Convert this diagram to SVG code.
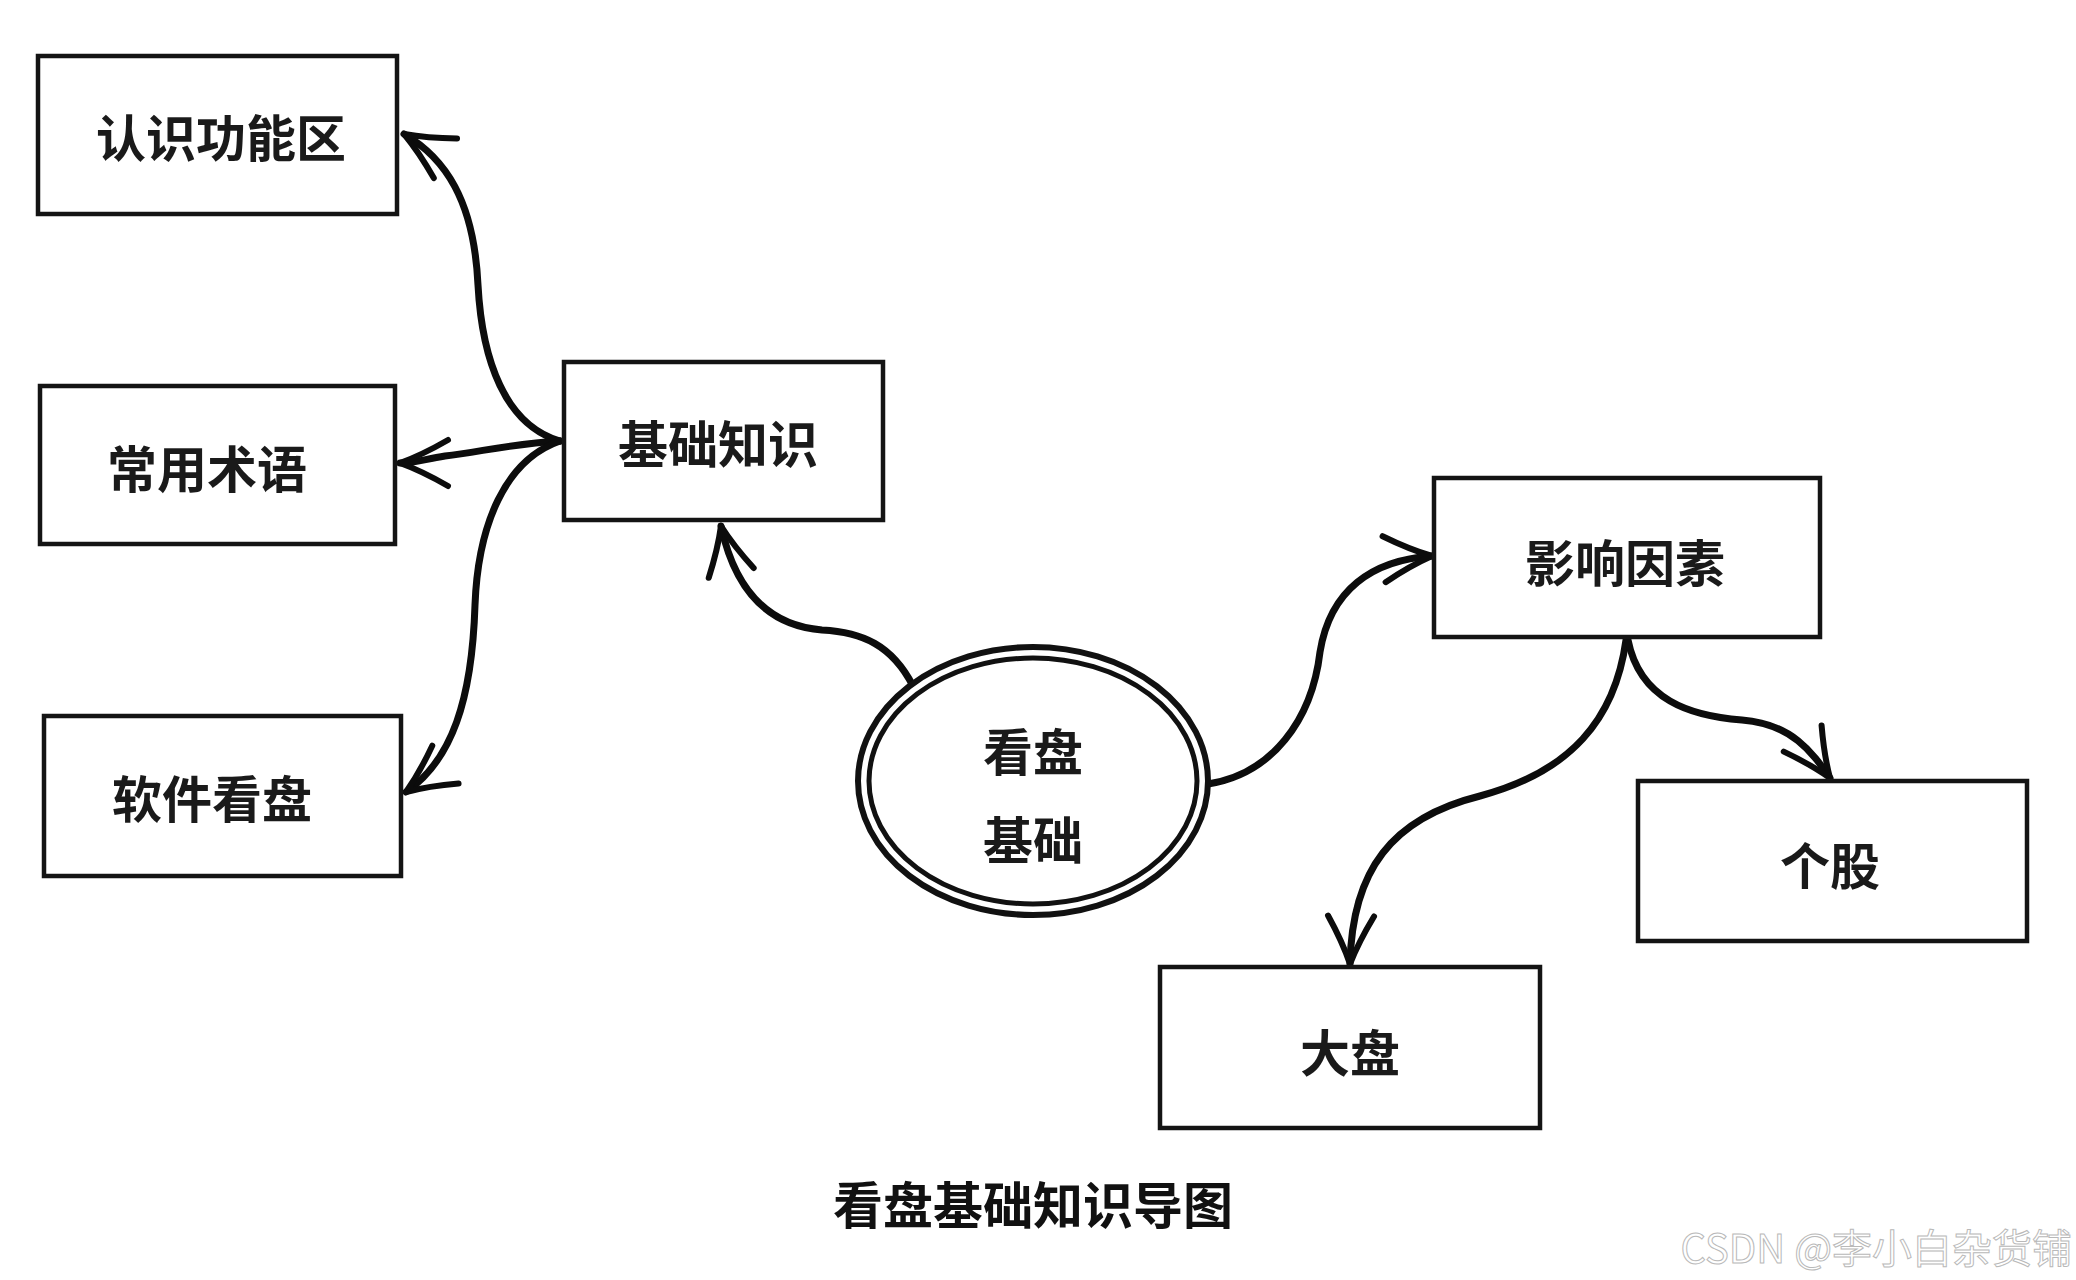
<svg xmlns="http://www.w3.org/2000/svg" width="2076" height="1280" viewBox="0 0 2076 1280">
<style>
.box{fill:#fff;stroke:#141414;stroke-width:4.5}
.lbl{font-family:"Noto Sans CJK SC","Noto Sans",sans-serif;font-size:50px;fill:#1a1a1a;text-anchor:middle;dominant-baseline:central;font-weight:600}
.con{fill:none;stroke:#0c0c0c;stroke-width:7;stroke-linecap:round}
.cap{font-family:"Noto Sans CJK SC","Noto Sans",sans-serif;font-size:50px;fill:#111;text-anchor:middle;dominant-baseline:central;font-weight:bold}
.wm{font-family:"Noto Sans CJK SC","Noto Sans",sans-serif;font-size:40px;fill:#fff;stroke:#b9b9b9;stroke-width:1;text-anchor:end;dominant-baseline:central}
</style>
<defs>
<marker id="arr" markerUnits="userSpaceOnUse" orient="auto" markerWidth="80" markerHeight="80" refX="0" refY="0" viewBox="-60 -40 70 80" overflow="visible">
<path d="M -48 -23 Q -22 -8 0 0 Q -22 8 -48 23" fill="none" stroke="#0c0c0c" stroke-width="6" stroke-linecap="round" stroke-linejoin="round"/>
</marker>
</defs>
<rect width="2076" height="1280" fill="#fff"/>
<g id="connectors">
<path class="con" marker-end="url(#arr)" d="M 560 441 C 505 425, 482 360, 478 285 C 474 200, 445 158, 404 134"/>
<path class="con" marker-end="url(#arr)" d="M 560 441 C 510 444, 480 452, 445 456 C 425 459, 415 463, 400 463"/>
<path class="con" marker-end="url(#arr)" d="M 560 441 C 505 460, 478 525, 475 605 C 472 700, 452 760, 406 792"/>
<path class="con" marker-end="url(#arr)" d="M 913 686 C 892 645, 862 632, 822 630 C 772 626, 736 595, 721 526"/>
<path class="con" marker-end="url(#arr)" d="M 1208 784 C 1272 774, 1312 720, 1320 652 C 1330 590, 1372 560, 1432 556"/>
<path class="con" marker-end="url(#arr)" d="M 1626 640 C 1615 720, 1570 772, 1480 796 C 1392 818, 1352 870, 1350 964"/>
<path class="con" marker-end="url(#arr)" d="M 1628 640 C 1640 700, 1690 716, 1742 720 C 1792 724, 1812 752, 1830 778"/>
</g>
<g id="n1"><rect class="box" x="38" y="56" width="359" height="158"/><text class="lbl" x="221" y="135">认识功能区</text></g>
<g id="n2"><rect class="box" x="40" y="386" width="355" height="158"/><text class="lbl" x="207" y="466">常用术语</text></g>
<g id="n3"><rect class="box" x="44" y="716" width="357" height="160"/><text class="lbl" x="212" y="796">软件看盘</text></g>
<g id="n4"><rect class="box" x="564" y="362" width="319" height="158"/><text class="lbl" x="718" y="441">基础知识</text></g>
<g id="n5"><rect class="box" x="1434" y="478" width="386" height="159"/><text class="lbl" x="1625" y="560">影响因素</text></g>
<g id="n6"><rect class="box" x="1638" y="781" width="389" height="160"/><text class="lbl" x="1830" y="863">个股</text></g>
<g id="n7"><rect class="box" x="1160" y="967" width="380" height="161"/><text class="lbl" x="1350" y="1050">大盘</text></g>
<g id="center">
<ellipse cx="1033" cy="781" rx="175" ry="134" fill="#fff" stroke="#111" stroke-width="6"/>
<ellipse cx="1033" cy="781" rx="164" ry="123" fill="none" stroke="#111" stroke-width="5"/>
<text class="lbl" x="1033" y="749">看盘</text>
<text class="lbl" x="1033" y="837">基础</text>
</g>
<text class="cap" x="1033" y="1202">看盘基础知识导图</text>
<text class="wm" x="2072" y="1246">CSDN @李小白杂货铺</text>
</svg>
